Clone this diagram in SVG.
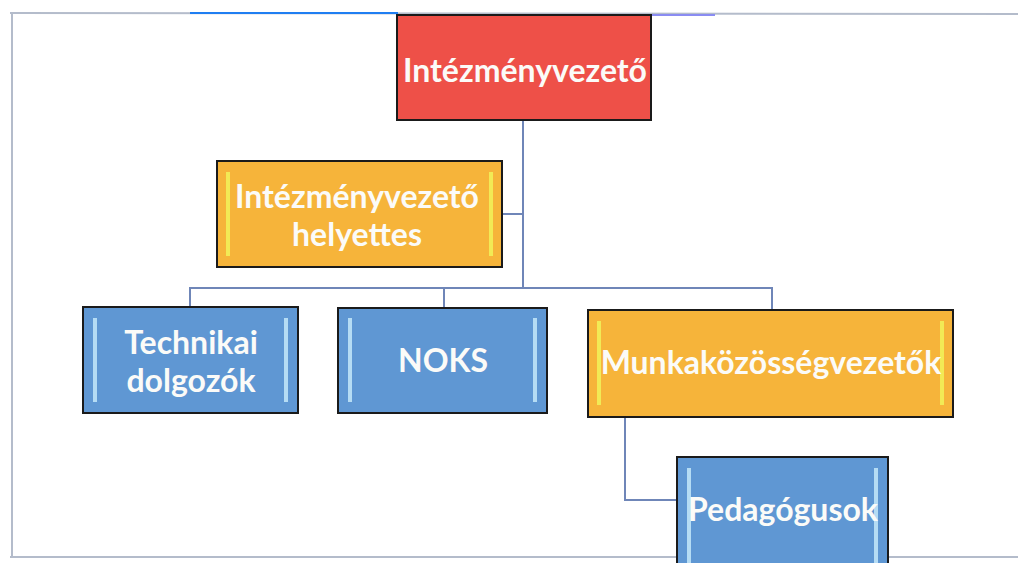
<svg xmlns="http://www.w3.org/2000/svg" width="1018" height="563" viewBox="0 0 1018 563">
<style>
.frame{stroke:#b4bccb;stroke-width:2;fill:none}
.conn{stroke:#6f86b8;stroke-width:2;fill:none}
.box{stroke:#1a1a1a;stroke-width:2}
.red{fill:#ee5048}
.org{fill:#f6b43a}
.blu{fill:#5f97d3}
.barY{fill:#f2ea55}
.barB{fill:#b5dcf4}
.t{font-family:Lato,"Open Sans","Liberation Sans",sans-serif;font-weight:bold;font-size:32px;fill:#fbfbf8;text-anchor:middle;dominant-baseline:central}
</style>
<rect width="1018" height="563" fill="#ffffff"/>
<g id="frame">
<line class="frame" x1="10" y1="13" x2="1018" y2="14"/>
<line x1="190" y1="13" x2="398" y2="13" stroke="#1f7ef2" stroke-width="2"/>
<line x1="650" y1="15" x2="715" y2="15" stroke="#8a8cf2" stroke-width="2"/>
<line class="frame" x1="12" y1="13" x2="12" y2="558"/>
<line class="frame" x1="10" y1="557" x2="1018" y2="557"/>
</g>
<g id="connectors">
<polyline class="conn" points="523,120 523,288"/>
<polyline class="conn" points="502,214 523,214"/>
<polyline class="conn" points="190,307 190,288 772,288 772,310"/>
<polyline class="conn" points="444,288 444,308"/>
<polyline class="conn" points="625,417 625,500 677,500"/>
</g>
<g id="n-vezeto">
<rect class="box red" x="397" y="15" width="254" height="105"/>
<text class="t" x="525" y="69">Intézményvezető</text>
</g>
<g id="n-helyettes">
<rect class="box org" x="217" y="161" width="285" height="106"/>
<rect class="barY" x="226" y="172" width="4" height="84"/>
<rect class="barY" x="489" y="172" width="4" height="84"/>
<text class="t" x="357" y="195">Intézményvezető</text>
<text class="t" x="357" y="233">helyettes</text>
</g>
<g id="n-technikai">
<rect class="box blu" x="83" y="307" width="215" height="106"/>
<rect class="barB" x="93" y="318" width="4" height="84"/>
<rect class="barB" x="284" y="318" width="4" height="84"/>
<text class="t" x="191" y="341">Technikai</text>
<text class="t" x="191" y="379">dolgozók</text>
</g>
<g id="n-noks">
<rect class="box blu" x="338" y="308" width="209" height="105"/>
<rect class="barB" x="348" y="318" width="4" height="84"/>
<rect class="barB" x="533" y="318" width="4" height="84"/>
<text class="t" x="443" y="359">NOKS</text>
</g>
<g id="n-munka">
<rect class="box org" x="588" y="310" width="365" height="107"/>
<rect class="barY" x="597" y="321" width="4" height="84"/>
<rect class="barY" x="940" y="321" width="4" height="84"/>
<text class="t" x="771" y="361">Munkaközösségvezetők</text>
</g>
<g id="n-pedagogusok">
<rect class="box blu" x="677" y="457" width="211" height="115"/>
<rect class="barB" x="687" y="468" width="4" height="95"/>
<rect class="barB" x="874" y="468" width="4" height="95"/>
<text class="t" x="783" y="508">Pedagógusok</text>
</g>
</svg>
